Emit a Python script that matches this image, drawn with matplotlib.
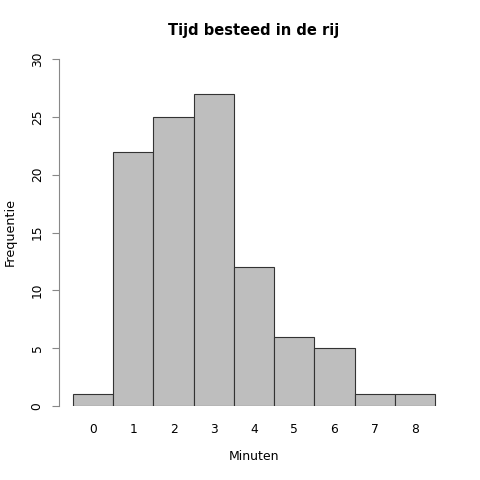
import matplotlib
matplotlib.use("Agg")
import matplotlib.pyplot as plt

# minutes waited in the queue and how often
minuten = [0, 1, 2, 3, 4, 5, 6, 7, 8]
frequentie = [1, 22, 25, 27, 12, 6, 5, 1, 1]
y_ticks = [0, 5, 10, 15, 20, 25, 30]

fig = plt.figure(figsize=(4.8, 4.8), dpi=100)
ax = fig.add_axes([59 / 480, 74 / 480, 400 / 480, 347 / 480])

ax.bar(minuten, frequentie, width=1.0, color="#bebebe", edgecolor="#333333", linewidth=0.8)

ax.set_xlim(-0.848, 9.097)
ax.set_ylim(0, 30)

for s in ["top", "right", "bottom"]:
    ax.spines[s].set_visible(False)
ax.spines["left"].set_color("#888888")
ax.spines["left"].set_bounds(0, 30)

ax.set_yticks(y_ticks)
ax.set_yticklabels([str(v) for v in y_ticks], rotation=90, va="center", fontsize=8.8)
ax.tick_params(axis="y", length=5, color="#888888", pad=6)
ax.set_xticks(minuten)
ax.set_xticklabels([str(m) for m in minuten], fontsize=8.8)
ax.tick_params(axis="x", length=0, pad=12)

fig.text(254 / 480, 1 - 30 / 480, "Tijd besteed in de rij", ha="center", va="center",
         fontsize=10.5, fontweight="bold")
fig.text(254 / 480, 1 - 457 / 480, "Minuten", ha="center", va="center", fontsize=9)
fig.text(10 / 480, 1 - 232 / 480, "Frequentie", ha="center", va="center",
         rotation=90, fontsize=9.2)

fig.savefig("out.png", dpi=100)
